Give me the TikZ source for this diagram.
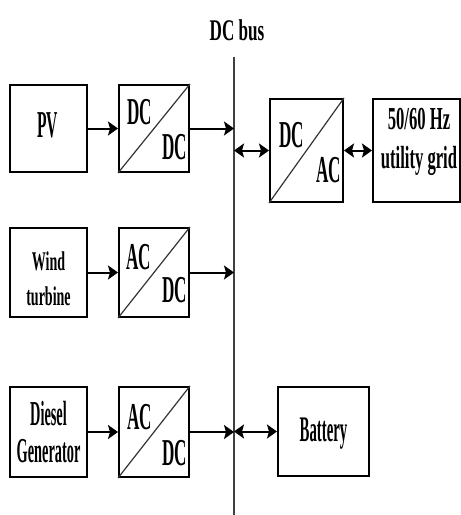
\documentclass[tikz,border=0pt]{standalone}
\usepackage{fontspec}
\setmainfont[FakeStretch=0.45]{Liberation Serif}
\newfontfamily\tightfont[FakeStretch=0.41]{Liberation Serif}
\newfontfamily\loosefont[FakeStretch=0.52]{Liberation Serif}
\newfontfamily\busfont[FakeStretch=0.57]{Liberation Serif}
\usetikzlibrary{arrows.meta}
\tikzset{
    block box/.style={draw, line width=2pt, inner sep=0pt},
    block text/.style={inner sep=0pt, align=center},
    conv text/.style={inner sep=0pt, font=\bfseries\fontsize{38}{38}\selectfont},
    diagonal line/.style={line width=1.2pt, black!80},
    bus line/.style={line width=1.2pt, black!75},
    flow line/.style={line width=2pt, -{Stealth[length=10pt,width=14pt,inset=2pt]}},
    both line/.style={line width=2pt,
        {Stealth[length=10pt,width=14pt,inset=2pt]}-{Stealth[length=10pt,width=14pt,inset=2pt]}}
}
% converter: [box options]{name}{centre}{in position}{in text}{out position}{out text}
\newcommand{\Converter}[7][]{%
\node[block box, minimum width=70pt, minimum height=87pt, #1] (#2) at #3 {};
\draw[diagonal line] (#2.south west) -- (#2.north east);
\node[conv text] (#2 in) at #4 {#5};
\node[conv text] (#2 out) at #6 {#7};
}

\begin{document}
\begin{tikzpicture}[x=1pt,y=-1pt]
    \useasboundingbox (0,0) rectangle (461,515);
    % bus
    \coordinate (bus top) at (234,57);
    \coordinate (bus bottom) at (234,515);
    \draw[bus line] (bus top) -- (bus bottom);
    \node[block text, font=\busfont\bfseries\fontsize{30}{30}\selectfont] (bus label) at (237,30.5) {DC bus};

    % sources
    \node[block box, minimum width=77pt, minimum height=87pt] (pv) at (48.5,128.5) {};
    \node[block text, font=\tightfont\bfseries\fontsize{38}{38}\selectfont] (pv text) at (47.5,125.5) {PV};
    \node[block box, minimum width=77pt, minimum height=89pt] (wind) at (48.5,272.5) {};
    \node[block text, font=\loosefont\bfseries\fontsize{27}{35}\selectfont] (wind text) at (48.5,278.5) {Wind\\turbine};
    \node[block box, minimum width=77pt, minimum height=90pt] (diesel) at (48.5,432) {};
    \node[block text, font=\tightfont\bfseries\fontsize{35}{37}\selectfont] (diesel text) at (48.5,432) {Diesel\\Generator};

    % converters
    \Converter{dcdc}{(154,128.5)}{(140,112.5)}{DC}{(175,147.5)}{DC}
    \Converter[minimum height=89pt]{wind conv}{(154,272.5)}{(139,257.5)}{AC}{(175,290)}{DC}
    \Converter[minimum height=90pt]{diesel conv}{(154,432)}{(139.5,417.5)}{AC}{(175,453.5)}{DC}
    \Converter[minimum width=73pt, minimum height=103pt]{dcac}{(306.5,150.5)}{(292,135)}{DC}{(329,170.5)}{AC}

    % loads and storage
    \node[block box, minimum width=87pt, minimum height=103pt] (grid) at (416.5,150.5) {};
    \node[block text, font=\loosefont\bfseries\fontsize{32}{39}\selectfont] (grid text) at (419,141.5) {50/60 Hz\\utility grid};
    \node[block box, minimum width=91pt, minimum height=89pt] (battery) at (323.5,431.5) {};
    \node[block text, font=\tightfont\bfseries\fontsize{36}{36}\selectfont] (battery text) at (323.5,434) {Battery};

    % connections
    \draw[flow line] (pv) -- (dcdc);
    \draw[flow line] (wind) -- (wind conv);
    \draw[flow line] (diesel) -- (diesel conv);
    \draw[flow line] (dcdc.east) -- (dcdc.east -| bus top);
    \draw[flow line] (wind conv.east) -- (wind conv.east -| bus top);
    \draw[flow line] (diesel conv.east) -- (diesel conv.east -| bus top);
    \draw[both line] (dcac.west -| bus top) -- (dcac.west);
    \draw[both line] (dcac) -- (grid);
    \draw[both line] (battery.west -| bus top) -- (battery.west);
\end{tikzpicture}
\end{document}
